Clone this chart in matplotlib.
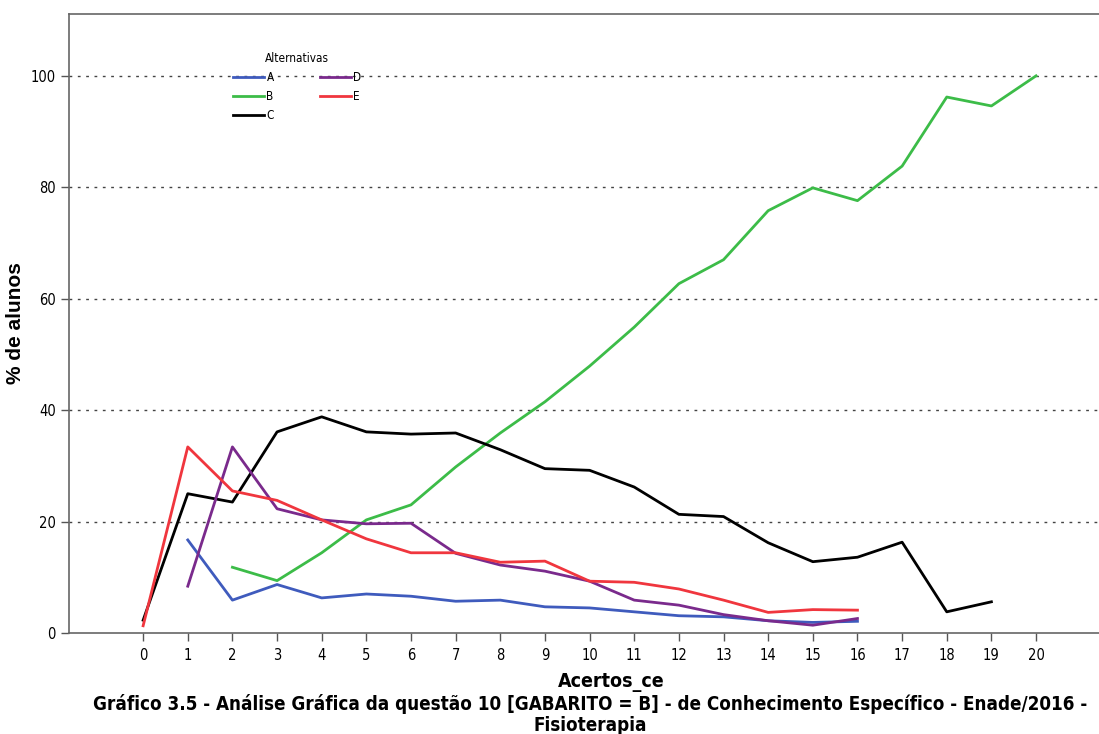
import matplotlib.pyplot as plt
from matplotlib import font_manager

# Fonte condensada (DejaVu Sans Condensed, se estiver instalada)
condensadas = [f for f in font_manager.fontManager.ttflist
               if f.stretch in ('condensed', 'semi-condensed') or 'Condensed' in f.fname]
plt.rcParams['font.family'] = ['DejaVu Sans']
if condensadas:
    plt.rcParams['font.stretch'] = 'condensed'

# Dados (% de alunos por número de acertos)
x_a = list(range(1, 17))
alt_a = [16.7, 5.9, 8.7, 6.3, 7.0, 6.6, 5.7, 5.9, 4.7, 4.5, 3.8, 3.1, 2.9, 2.2, 1.9, 2.1]
x_b = list(range(2, 21))
alt_b = [11.8, 9.4, 14.4, 20.3, 23.0, 29.8, 35.9, 41.5, 47.9, 54.9, 62.7, 67.0,
         75.8, 79.9, 77.6, 83.8, 96.2, 94.6, 100.0]
x_c = list(range(0, 20))
alt_c = [2.3, 25.0, 23.5, 36.1, 38.8, 36.1, 35.7, 35.9, 32.9, 29.5, 29.2, 26.2,
         21.3, 20.9, 16.2, 12.8, 13.6, 16.3, 3.8, 5.6]
x_d = list(range(1, 17))
alt_d = [8.4, 33.4, 22.3, 20.3, 19.6, 19.7, 14.3, 12.2, 11.1, 9.3, 5.9, 5.0, 3.3, 2.2, 1.4, 2.6]
x_e = list(range(0, 17))
alt_e = [1.3, 33.4, 25.5, 23.8, 20.3, 16.9, 14.4, 14.4, 12.7, 12.9, 9.3, 9.1, 7.9,
         5.9, 3.7, 4.2, 4.1]

fig = plt.figure(figsize=(10.99, 7.34), dpi=100)
ax = fig.add_axes([0.0628, 0.1376, 0.9372, 0.8433])

lw = 2.0
ax.plot(x_a, alt_a, color='#3f5bbd', lw=lw, label='A')
ax.plot(x_b, alt_b, color='#3cbc48', lw=lw, label='B')
ax.plot(x_c, alt_c, color='#000000', lw=lw, label='C')
ax.plot(x_d, alt_d, color='#7a2a8c', lw=lw, label='D')
ax.plot(x_e, alt_e, color='#f0363e', lw=lw, label='E')

ax.set_xlim(-1.66, 21.41)
ax.set_ylim(0, 111.1)
ax.set_xticks(range(0, 21))
ax.set_yticks(range(0, 101, 20))
for y in range(20, 101, 20):
    ax.axhline(y, color='#444444', lw=1.0, ls=(0, (2, 4)), zorder=0)

for s in ['left', 'bottom', 'top']:
    ax.spines[s].set_color('#666666')
    ax.spines[s].set_linewidth(1.2)
ax.spines['right'].set_visible(False)
ax.tick_params(axis='both', colors='#555555', labelcolor='black', labelsize=10.5,
               length=6, width=1)
ax.tick_params(axis='x', pad=5)

ax.set_ylabel('% de alunos', fontsize=15, fontweight='bold', family='Liberation Sans',
              stretch='normal', labelpad=4)

ax.legend(title='Alternativas', ncol=2, frameon=False, loc='upper left',
          bbox_to_anchor=(0.155, 0.946), fontsize=8.5, title_fontsize=8.5,
          handlelength=2.6, handletextpad=0.2, columnspacing=3.9,
          labelspacing=0.5, borderaxespad=0)

fig.text(0.556, 0.07, 'Acertos_ce', ha='center', va='center', fontsize=14,
         fontweight='bold')
titulo = ('Gráfico 3.5 - Análise Gráfica da questão 10 [GABARITO = B] - '
          'de Conhecimento Específico - Enade/2016 -')
tamanho = 13.5 if condensadas else 11.8
fig.text(0.537, 0.041, titulo, ha='center', va='center', fontsize=tamanho,
         fontweight='bold')
fig.text(0.537, 0.012, 'Fisioterapia', ha='center', va='center', fontsize=tamanho,
         fontweight='bold')

fig.savefig('out.png', dpi=100)
